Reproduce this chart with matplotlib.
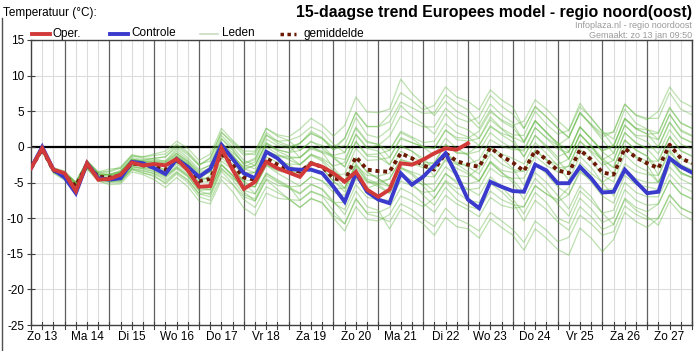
import matplotlib
matplotlib.use("Agg")
import matplotlib.pyplot as plt
from matplotlib.lines import Line2D
import numpy as np

plt.rcParams['font.family'] = ['Liberation Sans', 'DejaVu Sans']

# ---------------- data (6-hourly, from 13 jan 06:00 to 28 jan 00:00) ----------------
day_labels = ["Zo 13", "Ma 14", "Di 15", "Wo 16", "Do 17", "Vr 18", "Za 19",
              "Zo 20", "Ma 21", "Di 22", "Wo 23", "Do 24", "Vr 25", "Za 26", "Zo 27"]
y_ticks = [15, 10, 5, 0, -5, -10, -15, -20, -25]

oper = [-3.0, -0.2, -3.2, -3.7,  -6.2, -2.3, -4.6, -4.5,  -3.9, -2.2, -2.6, -2.4,
        -2.6, -1.7, -3.3, -5.6,  -5.5, -0.2, -3.2, -5.9,  -4.9, -2.1, -3.0, -3.6,
        -4.2, -2.3, -2.8, -3.7,  -4.9, -3.5, -6.0, -7.0,  -6.0, -2.3, -2.5, -1.8,
        -0.9, -0.2, -0.4, 0.5]

controle = [-3.0, 0.0, -3.2, -4.3,  -6.5, -2.3, -4.4, -4.6,  -4.4, -2.1, -2.3, -3.0,
            -3.8, -1.7, -2.8, -4.2,  -3.1, 0.3, -1.7, -3.7,  -4.4, -0.7, -1.6, -3.1,
            -3.2, -3.2, -3.7, -5.6,  -7.7, -3.7, -6.3, -7.4,  -7.9, -3.7, -5.3, -4.2,
            -2.6, -0.9, -4.0, -7.4,  -8.6, -4.9, -5.6, -6.2,  -6.3, -2.5, -3.3, -5.1,
            -5.1, -2.8, -4.4, -6.4,  -6.3, -3.2, -4.9, -6.5,  -6.3, -1.6, -2.8, -3.6]

gemiddelde = [-3.0, -0.3, -3.3, -4.0,  -5.5, -2.5, -4.2, -4.3,  -4.0, -2.3, -2.6, -2.8,
              -3.2, -1.9, -3.0, -4.8,  -4.5, -1.0, -2.5, -4.3,  -4.6, -1.6, -2.5, -3.1,
              -3.5, -2.3, -2.8, -4.4,  -4.8, -1.4, -3.2, -3.4,  -3.5, -0.9, -1.6, -2.6,
              -3.2, -0.9, -2.0, -2.5,  -2.8, -0.1, -1.3, -2.2,  -3.4, -0.5, -1.8, -3.3,
              -3.7, -0.4, -1.8, -3.6,  -3.9, -0.2, -1.5, -2.3,  -3.0, 0.3, -1.6, -2.3]

leden = [
    [-3,-0.2,-3.1,-3.8, -5.2,-2.2,-3.9,-3.9, -3.3,-1.5,-1.8,-1.7, -2,-0.3,-1.5,-3.2, -2.6,1.2,-0.3,-2.4,
     -1.8,1.7,0.5,0, 0.5,2.2,1.3,-0.4, 0.2,4.1,1.7,1.3, 2.5,5.8,4.3,3.2, 1.8,4.6,3.0,2.4,
     1.2,4.2,2.6,1.7, 1.6,5.0,3.2,1.8, 2.3,6.1,4.0,2.2, 1.1,5.3,3.3,2.5, 1,4.5,2.4,1.6],
    [-3.1,-0.5,-3.6,-4.5, -6,-3,-4.8,-5, -5,-3.2,-3.7,-4, -5.2,-3.8,-5,-7, -7.5,-4.1,-5.3,-7.4,
     -8.5,-5.6,-6.4,-7.3, -8.5,-7.2,-7.9,-9.6, -10.8,-7.2,-9.4,-9.8, -10.5,-8.0,-8.8,-10.1, -11.2,-8.6,-10.1,-10.8,
     -11.8,-9.2,-10.4,-11.6, -13.4,-10.4,-11.7,-13.3, -12.7,-9.6,-10.8,-12.4, -11.9,-8.3,-9.5,-10.2, -10,-6.8,-8.5,-9.3],
    [-2.9,-0.1,-3,-3.5, -5,-2,-3.6,-3.5, -3,-1.2,-1.6,-1.6, -1.4,0.2,-0.9,-2.6, -1.6,2.1,0.4,-1.2,
     -0.8,2.6,1.7,1.4, 2.5,4,3,1.5, 3,7,4.9,4.8, 5.3,9.5,7.5,6.0, 4.4,6.4,5.0,4.2,
     2.6,5.2,3.6,2.7, 0.8,3.7,2.0,0.6, -0.6,2.8,1.1,-0.5, 0.2,4.0,2.6,1.8, 1.9,5.6,3.3,2.6],
    [-3.1,-0.4,-3.5,-4.3, -5.9,-2.7,-4.6,-4.8, -4.8,-3.1,-3.4,-3.8, -4.7,-3.5,-4.6,-6.6, -7,-3.4,-5.2,-7,
     -7.6,-4.5,-5.4,-5.6, -5.5,-4.2,-4.8,-5.9, -5.8,-2.6,-4,-4.1, -3.7,-0.6,-1.5,-2.1, -2.3,0.4,-0.9,-1.0,
     -0.6,2.0,0.7,-0.2, -0.6,2.7,1.2,-0.3, -0.8,2.8,1.2,-0.7, -1.9,2.0,0.6,-0.3, -2,1.5,-0.6,-1.3],
    [-2.9,-0.2,-3.2,-3.8, -5.3,-2.3,-3.9,-3.9, -3.5,-1.8,-2.1,-2.0, -2.2,-0.9,-2.1,-3.6, -3.0,0.6,-1.1,-3.1,
     -3.6,-0.6,-1.7,-2.5, -3.5,-2.0,-3.0,-4.9, -5.8,-2.6,-4.8,-5.6, -6.5,-3.5,-5.1,-6.8, -8.2,-5.7,-7.4,-8.3,
     -8.8,-6.2,-7.4,-8.1, -8.4,-5.4,-6.6,-7.7, -6.7,-3.6,-4.5,-6.0, -5.9,-2.4,-3.5,-3.9, -4,-0.4,-2.5,-3.2],
    [-3,-0.4,-3.4,-4.2, -5.7,-2.7,-4.4,-4.3, -3.7,-2.0,-2.3,-2.2, -2.4,-1.1,-2.2,-4.0, -3.5,0.1,-1.3,-3.0,
     -2.6,0.5,-0.4,-0.8, -0.5,0.8,-0.2,-1.6, -2.8,0.8,-1.3,-1.4, -2.5,0.2,-0.6,-1.6, -3.2,-0.7,-2.2,-2.8,
     -3.8,-1.0,-2.4,-3.2, -3.4,-0.4,-1.8,-3.0, -2.7,0.8,-0.8,-2.6, -1.9,2.0,0.5,-0.2, 0,3.5,1.4,0.6],
    [-3,-0.1,-3.1,-3.7, -5.1,-2.2,-4.5,-4.6, -4.5,-2.8,-3.1,-3.5, -4.2,-2.9,-4.1,-6.1, -6,-2.5,-4.1,-6.1,
     -6.6,-3.7,-4.8,-5.6, -6.5,-5.2,-6.0,-7.9, -8.8,-5.3,-7.1,-7.4, -7.5,-4.8,-5.5,-6.4, -6.2,-3.8,-4.8,-5.2,
     -4.8,-2.2,-3.6,-4.6, -6.4,-3.6,-5.0,-6.8, -8.7,-5.5,-7.0,-9.3, -10.9,-7.4,-8.9,-9.8, -11,-7.6,-9.4,-10.3],
    [-3,-0.4,-3.3,-4.2, -5.9,-3.0,-4.5,-4.5, -3.4,-1.7,-2.0,-1.9, -2.0,-0.6,-1.8,-3.4, -2.5,1.1,-0.5,-2.5,
     -3.1,0,-1.0,-1.8, -2.5,-1.1,-1.6,-2.7, -2.2,1.8,-0.1,0.2, 1.5,4.3,3.5,2.8, 2.8,5.4,4.1,3.5,
     4.2,7.2,5.7,4.6, 2.6,5.7,4.2,2.7, 1.3,4.8,3.0,1.0, -0.9,3.1,1.4,0.7, -1,2.4,0.4,-0.3],
    [-3,-0.2,-3.3,-4.1, -5.4,-2.4,-4.1,-4.3, -4.2,-2.5,-2.8,-3.2, -3.7,-2.4,-3.5,-5.5, -5.5,-2.0,-3.2,-4.8,
     -4.6,-1.4,-2.2,-2.4, -2.5,-1.0,-1.8,-3.3, -4.8,-1.6,-3.5,-4.4, -5.5,-3.0,-3.9,-5.5, -7.2,-4.7,-5.8,-6.0,
     -5.8,-3.0,-4.1,-4.4, -4.4,-1.3,-2.6,-3.5, -2.7,0.8,-0.6,-1.8, -0.9,3.0,1.6,1.5, 1,4.6,2.2,1.5],
    [-3.1,-0.6,-3.7,-4.7, -6.2,-3.1,-4.8,-5.3, -5.2,-3.5,-3.9,-4.6, -5.7,-4.3,-5.6,-7.6, -8.0,-4.6,-6.3,-8.6,
     -9.6,-6.5,-7.2,-7.4, -7.5,-6.2,-6.8,-7.8, -7.8,-4.5,-5.8,-5.2, -4.5,-1.8,-2.4,-2.9, -3.2,-0.8,-2.4,-3.5,
     -4.8,-2.1,-3.6,-5.0, -7.4,-4.4,-6.0,-8.0, -9.7,-6.2,-7.6,-9.3, -8.9,-5.0,-6.4,-7.0, -7,-3.8,-5.5,-6.3],
    [-2.9,0,-3,-3.6, -4.9,-1.9,-3.6,-3.4, -2.8,-1.1,-1.4,-1.2, -1.0,0.4,-0.7,-2.4, -2.0,1.6,0,-1.9,
     -2.6,0.4,-0.6,-1.3, -2.5,-1.2,-2.0,-4.0, -5.8,-2.3,-4.5,-5.2, -5.5,-3.0,-3.5,-4.1, -4.2,-1.7,-2.5,-2.4,
     -1.8,1.0,0.1,-0.4, -0.4,2.7,1.3,0.2, 1.3,4.7,3.2,1.8, 2.1,6.0,4.5,4.0, 4,7.6,5.3,4.5],
    [-3,-0.4,-3.4,-4.1, -5.6,-2.6,-4.3,-4.4, -3.8,-2.1,-2.4,-2.8, -3.5,-2.2,-3.3,-5.0, -4.0,-0.4,-1.9,-3.6,
     -3.6,-0.6,-1.2,-1.4, -1.5,-0.1,-0.6,-1.2, -0.8,2.8,0.8,0.3, -0.5,2.0,1.2,0.0, -1.2,1.2,-0.2,-1.2,
     -2.8,-0.1,-1.6,-3.0, -5.4,-2.3,-3.8,-5.6, -6.7,-3.3,-4.9,-6.9, -7.9,-4.0,-5.3,-5.6, -6,-2.8,-4.5,-5.3],
    [-3,-0.2,-3.2,-3.9, -5.2,-2.2,-3.8,-3.8, -3.5,-1.8,-2.1,-2.3, -2.7,-1.4,-2.5,-4.5, -4.5,-1.0,-2.8,-4.9,
     -5.6,-2.6,-3.7,-4.6, -5.5,-4.2,-4.8,-6.4, -6.8,-3.4,-5.0,-4.9, -4.5,-1.8,-2.2,-2.6, -2.2,0.3,-0.8,-0.9,
     0.2,2.8,1.9,1.4, 0.6,3.6,2.0,0.3, -1.7,1.8,0,-2.0, -3.9,0.0,-1.5,-2.6, -5,-1.8,-3.8,-4.3],
    [-3.1,-0.5,-3.4,-4.2, -5.8,-2.8,-4.5,-4.7, -4.5,-2.8,-3.0,-2.9, -3.2,-1.9,-2.8,-4.4, -3.5,0.2,-1.3,-2.8,
     -2.1,1.1,0.2,-0.2, 0.5,1.9,1.2,-0.1, 1.2,4.8,2.9,2.8, 3.5,6.3,5.5,4.7, 4.8,7.3,6.1,5.2,
     3.2,6.0,4.5,3.4, 0.6,3.7,2.1,0.5, -1.7,1.8,0.1,-1.9, -2.9,0.9,-0.4,-1.3, -3,0.5,-1.6,-2.5],
    [-3,-0.1,-3.2,-4.0, -5.4,-2.3,-4.6,-4.9, -4.8,-3.1,-3.6,-4.2, -5.0,-3.6,-4.7,-6.6, -6.5,-3.0,-4.4,-5.5,
     -5.6,-2.5,-3.4,-3.6, -3.5,-2.1,-2.7,-4.0, -3.8,-0.2,-1.9,-1.8, -1.5,1.3,0.6,0.0, -0.2,2.4,1.0,0.8,
     1.2,3.8,2.5,1.2, -1.4,1.6,-0.1,-1.8, -3.7,-0.3,-1.9,-4.0, -4.9,-1.1,-2.6,-3.4, -5,-1.7,-3.6,-4.3],
    [-3,-0.4,-3.4,-4.2, -5.7,-2.7,-4.3,-4.2, -3.6,-1.8,-1.9,-1.6, -1.4,-0.1,-1.1,-2.6, -1.5,2.0,0.7,-0.9,
     -1.1,2.0,0.8,0.2, -1.5,0,-0.8,-2.9, -4.8,-1.5,-3.6,-4.5, -5.5,-2.8,-3.7,-5.0, -6.2,-3.7,-5.1,-5.9,
     -6.8,-4.2,-5.6,-7.3, -9.4,-6.4,-7.8,-10.0, -10.7,-7.2,-8.7,-10.6, -9.9,-6.0,-7.5,-8.2, -8,-4.7,-6.5,-7.3],
    [-2.9,0.1,-3,-3.6, -5.0,-2.0,-3.7,-3.9, -4.0,-2.3,-2.6,-3.0, -4.0,-2.7,-3.8,-5.6, -6.0,-2.5,-4.0,-6.3,
     -7.6,-4.6,-6.0,-7.3, -8.5,-7.3,-7.8,-10.0, -11.8,-8.4,-10.2,-10.4, -9.5,-6.9,-7.6,-8.4, -7.2,-4.9,-6.4,-7.5,
     -7.8,-5.1,-6.3,-7.8, -10.4,-7.5,-8.8,-10.5, -11.7,-8.4,-9.8,-11.6, -10.9,-7.2,-8.5,-9.1, -8,-4.7,-6.6,-7.3],
    [-3.1,-0.6,-3.5,-4.3, -5.8,-2.8,-4.5,-4.4, -4.2,-2.6,-2.6,-2.5, -2.7,-1.3,-2.4,-4.2, -3.0,0.5,-0.8,-2.3,
     -1.6,1.6,0.8,0.9, 1.5,2.8,2.1,0.4, -0.8,2.6,0.6,0.4, -1.5,1.1,0.6,0.0, -0.2,2.3,1.3,1.2,
     2.2,4.9,3.8,3.0, 3.6,6.6,5.3,3.7, 2.3,5.6,4.1,2.1, 0.1,4.0,2.6,2.4, 2,5.4,3.4,2.6],
    [-3,-0.3,-3.4,-4.2, -5.6,-2.6,-4.6,-4.8, -4.7,-3.0,-3.3,-3.7, -4.4,-3.1,-4.2,-6.2, -6.7,-3.1,-4.6,-6.7,
     -7.3,-4.0,-5.0,-5.8, -6.6,-5.3,-5.9,-7.6, -9.5,-6.2,-8.4,-8.9, -11.5,-8.8,-9.7,-10.8, -12.4,-9.9,-11.2,-11.5,
     -12.8,-10.1,-11.3,-12.4, -14.5,-11.5,-12.8,-14.4, -15.2,-11.4,-12.8,-14.7, -13.0,-9.2,-10.5,-11.3, -10.0,-6.7,-8.6,-9.3],
    [-2.9,-0.2,-3.1,-3.8, -5.3,-2.2,-3.9,-3.9, -3.5,-1.8,-2.0,-2.1, -2.2,-0.9,-2.0,-3.8, -3.5,0.1,-1.5,-3.2,
     -2.6,0.6,-0.4,-0.8, 0.5,1.9,1.1,-0.5, 1.2,4.9,2.8,2.9, 4.5,7.6,6.5,5.2, 5.8,8.4,7.0,6.4,
     5.2,8.0,6.6,5.6, 2.6,5.6,4.2,2.6, 1.3,4.9,3.1,1.4, 2.1,6.0,4.4,3.8, 5,8.4,6.4,5.6],
    [-3,-0.5,-3.5,-4.2, -5.7,-2.8,-4.5,-4.7, -4.4,-2.7,-3.0,-3.4, -4.1,-2.9,-4.0,-5.9, -6.0,-2.5,-4.0,-5.5,
     -5.6,-2.6,-3.2,-3.5, -3.5,-2.0,-3.0,-4.8, -6.3,-2.9,-4.8,-5.3, -6.5,-3.8,-4.7,-5.3, -5.2,-2.8,-4.0,-4.2,
     -3.0,-0.1,-1.0,-1.6, -2.4,0.6,-0.9,-2.6, -4.7,-1.3,-2.9,-5.0, -6.9,-3.0,-4.5,-5.0, -5,-1.6,-3.6,-4.3],
    [-2.9,0,-2.9,-3.4, -5.0,-2.0,-3.5,-3.1, -3.0,-1.3,-1.4,-1.0, -0.6,0.8,-0.2,-1.9, -1.0,2.6,0.9,-0.6,
     -0.6,2.6,1.5,0.9, -0.5,0.7,0.2,-1.4, -2.8,0.7,-1.1,-1.0, -0.5,2.2,1.4,0.6, 0.8,3.3,2.0,1.4,
     0.2,3.0,1.7,0.7, -1.4,1.6,0.2,-1.4, -0.7,2.8,1.1,-0.6, 0.1,3.9,2.5,1.8, 0,3.4,1.3,0.6],
    [-3,-0.6,-3.5,-4.3, -5.8,-2.8,-4.5,-4.6, -3.8,-2.1,-2.4,-2.6, -3.2,-1.9,-3.0,-4.8, -5.0,-1.5,-3.0,-5.0,
     -6.6,-3.7,-4.6,-5.5, -7.5,-6.3,-6.9,-9.0, -10.8,-7.4,-9.2,-9.2, -8.5,-5.8,-6.6,-7.9, -9.2,-6.8,-8.0,-8.8,
     -9.8,-7.1,-8.2,-8.6, -8.4,-5.5,-6.6,-7.4, -5.7,-2.2,-3.7,-5.0, -3.9,0.0,-1.4,-2.0, -2,1.4,-0.5,-1.3],
    [-3,-0.2,-3.2,-3.9, -5.4,-2.4,-4.0,-4.0, -3.7,-2.0,-2.3,-2.4, -2.6,-1.3,-2.4,-4.3, -4.5,-1.0,-2.4,-4.0,
     -3.6,-0.5,-1.3,-1.6, -1.5,-0.3,-0.8,-1.4, -1.8,1.7,-0.2,-0.6, -2.5,0.1,-0.6,-2.0, -4.2,-1.9,-3.0,-3.8,
     -4.8,-2.0,-3.3,-3.6, -3.4,-0.5,-1.8,-2.5, -1.7,1.7,0.2,-1.6, -2.9,1.0,-0.5,-1.3, -4,-0.7,-2.6,-3.3],
]

# ---------------- figure ----------------
W, H = 697, 351
fig = plt.figure(figsize=(W / 100, H / 100), dpi=100)
L, R, T, B = 31, 692, 40, 325
ax = fig.add_axes([L / W, 1 - B / H, (R - L) / W, (B - T) / H])

n = len(controle)
x = np.arange(n)

# grid
for yv in y_ticks:
    ax.axhline(yv, color='#dcdcdc', lw=0.8, zorder=0)
for i in range(n):
    if i % 4 == 3:
        ax.axvline(i, color='#606060', lw=0.9, zorder=0.5)
    else:
        ax.axvline(i, color='#dcdcdc', lw=0.8, zorder=0)
ax.axhline(0, color='black', lw=1.6, zorder=1)

for m in leden:
    ax.plot(x[:len(m)], m, color='#62b842', lw=0.9, alpha=0.42, zorder=2)

ax.plot(x, gemiddelde, color='#6a1a05', lw=2.8, linestyle=(0, (1, 1)), zorder=3)
ax.plot(x, controle, color='#3a3acc', lw=2.8, zorder=4, solid_joinstyle='miter')
ax.plot(x[:len(oper)], oper, color='#d23a3a', lw=2.8, zorder=5, solid_joinstyle='miter')

ax.set_xlim(0, n - 1)
ax.set_ylim(-25, 15)
ax.set_yticks(y_ticks)
ax.set_yticklabels([str(v) for v in y_ticks], fontsize=8.5)
ax.set_xticks([1 + 4 * d for d in range(len(day_labels))])
ax.set_xticklabels(day_labels, fontsize=8.5)
ax.set_xticks(np.arange(n), minor=True)
ax.tick_params(axis='x', which='both', length=0, pad=4)
ax.tick_params(axis='y', which='major', direction='inout', length=6, width=0.8, pad=2, color='#404040')
for s in ['left', 'right', 'top', 'bottom']:
    ax.spines[s].set_color('#404040')
    ax.spines[s].set_linewidth(1.0)
# small ticks on the bottom axis
for i in range(n):
    ax.plot([i, i], [-25.5, -24.6], color='#404040', lw=0.8, clip_on=False, zorder=6)

# left frame line of the figure
fig.add_artist(Line2D([1.5 / W, 1.5 / W], [0, 1 - 18 / H], transform=fig.transFigure,
                      color='#505050', lw=1.0))

# texts
fig.text(3 / W, 1 - 13 / H, "Temperatuur (°C):", fontsize=8.5, va='center', ha='left')
fig.text(692 / W, 1 - 12 / H, "15-daagse trend Europees model - regio noord(oost)",
         fontsize=11.4, fontweight='bold', va='center', ha='right')
fig.text(692 / W, 1 - 26 / H, "Infoplaza.nl - regio noordoost", fontsize=6.5,
         color='#9a9a9a', va='center', ha='right')
fig.text(692 / W, 1 - 35.5 / H, "Gemaakt: zo 13 jan 09:50", fontsize=6.5,
         color='#9a9a9a', va='center', ha='right')

# legend
ly = 1 - 33.5 / H
legend_items = [
    (32, 50, 53, "Oper.", dict(color='#d23a3a', lw=2.8)),
    (110, 128, 131, "Controle", dict(color='#3a3acc', lw=2.8)),
    (200, 218, 222, "Leden", dict(color='#c9dcc0', lw=1.2)),
    (280, 296, 303, "gemiddelde", dict(color='#6a1a05', lw=2.5, linestyle=(0, (1, 1)))),
]
for x0, x1, xt, label, style in legend_items:
    fig.add_artist(Line2D([x0 / W, x1 / W], [ly, ly], transform=fig.transFigure, **style))
    fig.text(xt / W, ly, label, fontsize=8.5, va='center', ha='left')

fig.savefig("out.png", dpi=100)
